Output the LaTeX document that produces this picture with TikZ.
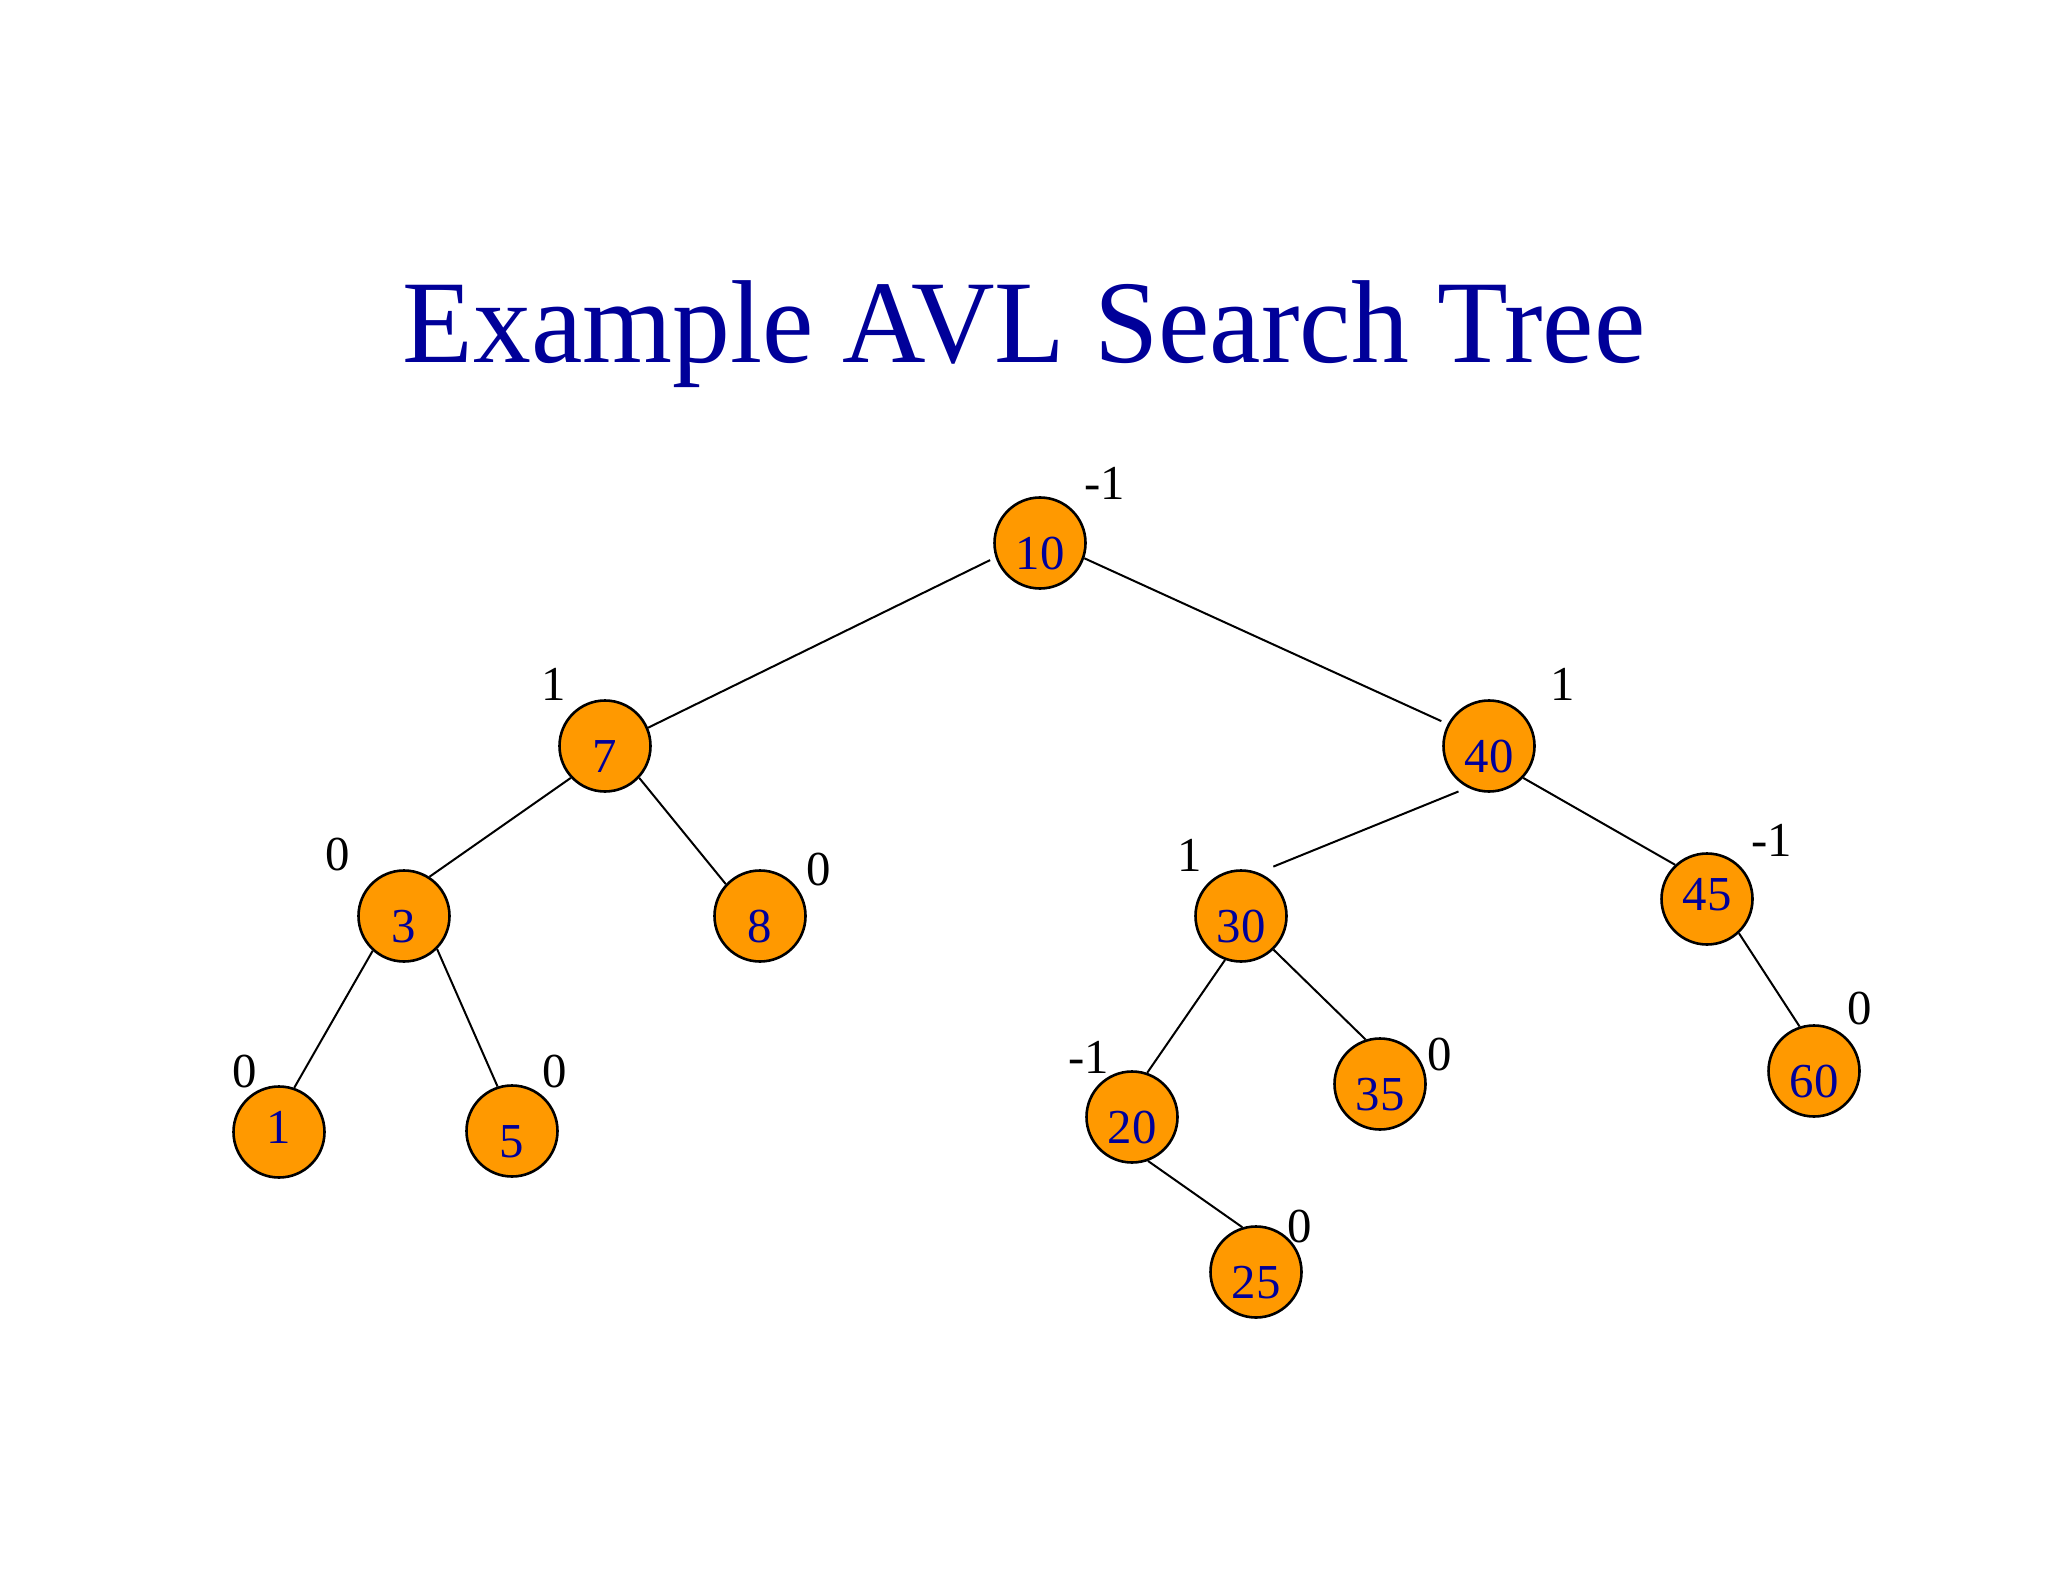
\documentclass[tikz,border=0pt]{standalone}
\usepackage{fontspec}
\setmainfont{Liberation Serif}
\definecolor{avlorange}{HTML}{FF9900}
\definecolor{avlblue}{HTML}{000099}

\begin{document}
\begin{tikzpicture}[x=0.5pt,y=-0.5pt,
  vert/.style={circle,draw,line width=1.3pt,fill=avlorange,minimum size=45.5pt,inner sep=0pt,text=avlblue,font=\fontsize{24.4}{29}\selectfont,text height=#1,text depth=0pt},
  vert/.default=26.5pt,
  bal/.style={font=\fontsize{24.4}{29}\selectfont,inner sep=0pt},
  link/.style={line width=1pt}]
\useasboundingbox (0,0) rectangle (2048,1582);
\node[anchor=base,text=avlblue,font=\fontsize{59}{70}\selectfont] (title) at (1024,363) {\scalebox{0.98}[1]{Example AVL Search Tree}};
% tree nodes
\node[vert] (n10) at (1040,543) {10};
\node[vert] (n7) at (605,746) {7};
\node[vert] (n40) at (1489,746) {40};
\node[vert] (n3) at (404,916) {3};
\node[vert] (n8) at (760,916) {8};
\node[vert] (n30) at (1241,916) {30};
\node[vert=11.5pt] (n45) at (1707,899) {45};
\node[vert=11.5pt] (n1) at (279,1132) {1};
\node[vert] (n5) at (512,1131) {5};
\node[vert] (n20) at (1132,1117) {20};
\node[vert] (n35) at (1380,1084) {35};
\node[vert] (n60) at (1814,1071) {60};
\node[vert] (n25) at (1256,1272) {25};
% balance factors
\node[bal] (b10) at (1105,483) {-1};
\node[bal] (b7) at (554,684) {1};
\node[bal] (b40) at (1563,684) {1};
\node[bal] (b3) at (338,855) {0};
\node[bal] (b8) at (819,870) {0};
\node[bal] (b30) at (1190,855) {1};
\node[bal] (b45) at (1772,840) {-1};
\node[bal] (b1) at (245,1072) {0};
\node[bal] (b5) at (555,1072) {0};
\node[bal] (b20) at (1089,1057) {-1};
\node[bal] (b35) at (1440,1055) {0};
\node[bal] (b60) at (1860,1009) {0};
\node[bal] (b25) at (1300,1227) {0};
% edges
\draw[link,shorten <=3pt] (n10.198) -- (n7.23);
\draw[link,shorten >=3.5pt] (n10.341) -- (n40.152);
\foreach \a/\b in {n7.223/n3.57,n7.317/n8.137,n3.228/n1.71,n3.315/n5.108,n40.317/n45.133,n30.250/n20.71,n30.314/n35.108,n45.313/n60.108,n20.290/n25.107}{\draw[link] (\a) -- (\b);}
\draw[link,shorten <=5pt,shorten >=8pt] (n40.243) -- (n30.68);
\end{tikzpicture}
\end{document}
